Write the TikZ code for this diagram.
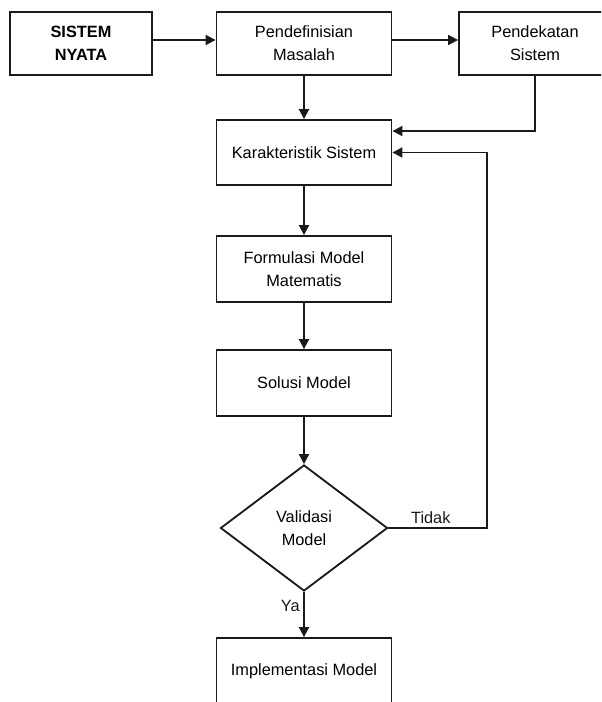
\documentclass[tikz,border=0pt]{standalone}
\usepackage{fontspec}
\setmainfont{Liberation Sans}
\usepackage{tikz}
\usetikzlibrary{arrows.meta,positioning,shapes.geometric,calc}
\definecolor{lineblk}{HTML}{1A1A1A}
\definecolor{paper}{HTML}{FFFFFF}
\tikzset{
  every picture/.append style={font=\fontsize{9.8}{13.8}\selectfont},
  blok/.style   = {draw=lineblk, line width=1.1pt, fill=paper,
                   minimum width=105pt, minimum height=38pt,
                   align=center, inner sep=2pt},
  blokb/.style  = {blok, font=\fontsize{9.8}{13.8}\selectfont\bfseries,
                   minimum width=85.2pt},
  keputusan/.style = {diamond, draw=lineblk, line width=1.1pt, fill=paper,
                   minimum width=100.2pt, minimum height=75.6pt,
                   inner sep=0pt, align=center},
  arr/.style    = {-{Triangle[length=6pt,width=6pt]}, draw=lineblk,
                   line width=1.1pt},
  ln/.style     = {draw=lineblk, line width=1.1pt},
  lbl/.style    = {inner sep=2pt, text=lineblk},
}

\begin{document}
\begin{tikzpicture}[x=0.6pt,y=-0.6pt]
  \clip (0,0) rectangle (601,702);
  \fill[paper] (0,0) rectangle (601,702);

  % baris atas
  \node[blokb] (sn) at (81,43.5)    {SISTEM\\NYATA};
  \node[blok]  (pm) at (304,43.5) {Pendefinisian\\Masalah};
  \node[blok, minimum width=91.2pt] (ps) at (535,43.5) {Pendekatan\\Sistem};

  % kolom tengah
  \node[blok, minimum height=39pt] (ks) at (304,152.5) {Karakteristik Sistem};
  \node[blok, minimum height=39.6pt] (fm) at (304,269) {Formulasi Model\\Matematis};
  \node[blok, minimum height=39.6pt] (so) at (304,383) {Solusi Model};
  \node[keputusan] (vm) at (304,528) {Validasi\\Model};
  \node[blok, minimum height=39.6pt] (im) at (304,671) {Implementasi Model};
  \coordinate (fb) at (487,528);

  % panah
  \draw[arr] ([yshift=2.1pt]sn.east) -- ([yshift=2.1pt]pm.west);
  \draw[arr] ([yshift=2.1pt]pm.east) -- ([yshift=2.1pt]ps.west);
  \draw[arr] (pm) -- (ks);
  \draw[arr] (ps.south) |- ([yshift=12.9pt]ks.east);
  \draw[arr] (ks) -- (fm);
  \draw[arr] (fm) -- (so);
  \draw[arr] (so) -- (vm);
  \draw[arr] (vm.south) -- node[lbl, left, pos=0.32] (ya) {Ya} (im.north);
  \draw[arr] (vm.east) -- node[lbl, above, pos=0.43] (tidak) {Tidak} (fb)
             |- (ks.east);
\end{tikzpicture}
\end{document}
